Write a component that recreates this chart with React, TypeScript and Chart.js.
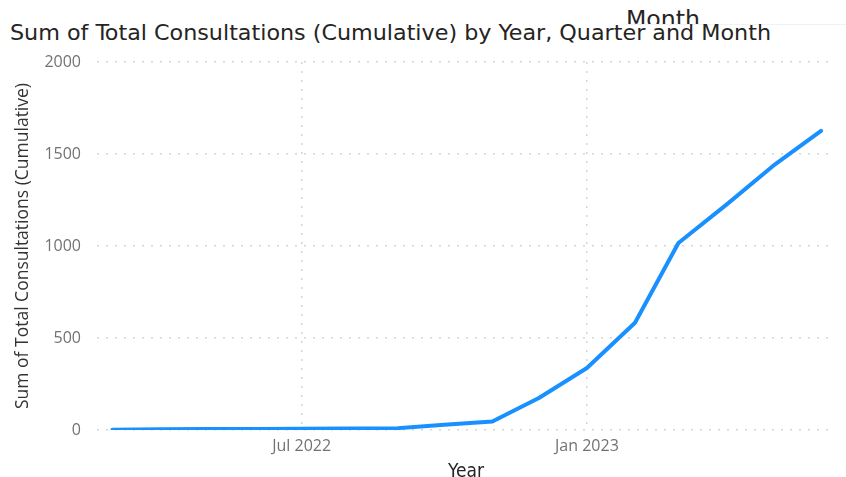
import React, { useEffect, useLayoutEffect, useRef } from "react";
import { Chart, registerables } from "chart.js";

Chart.register(...registerables);

const titleText = "Sum of Total Consultations (Cumulative) by Year, Quarter and Month";
const headerText = "Month";
const yAxisTitle = "Sum of Total Consultations (Cumulative)";
const xAxisTitle = "Year";

const months = [
  "2022-03-01", "2022-04-01", "2022-05-01", "2022-06-01", "2022-07-01", "2022-08-01",
  "2022-09-01", "2022-10-01", "2022-11-01", "2022-12-01", "2023-01-01", "2023-02-01",
  "2023-03-01", "2023-04-01", "2023-05-01", "2023-06-01",
];
const consultations = [2, 4, 5, 6, 7, 8, 10, 28, 46, 174, 337, 583, 1016, 1225, 1435, 1626];

const xTickDates = ["2022-07-01", "2023-01-01"];
const xTickLabels = ["Jul 2022", "Jan 2023"];
const xRange = ["2022-02-19", "2023-06-10"];
const yTicks = [0, 500, 1000, 1500, 2000];
const yTickLabels = ["0", "500", "1000", "1500", "2000"];

const day = (s: string) => Date.parse(s + "T00:00:00Z") / 86400000;

const CONDENSED = "'DejaVu Sans Condensed', 'Liberation Sans Narrow', 'DejaVu Sans', sans-serif";
const UI = "'Open Sans', 'DejaVu Sans', sans-serif";

function FitText(props: { text: string; width: number; style: React.CSSProperties }) {
  const ref = useRef<HTMLSpanElement | null>(null);
  useLayoutEffect(() => {
    const el = ref.current;
    if (!el) return;
    el.style.transform = "none";
    const w = el.getBoundingClientRect().width;
    if (w > 0) el.style.transform = `scaleX(${props.width / w})`;
  }, [props.text, props.width]);
  return (
    <span
      ref={ref}
      style={{ display: "inline-block", whiteSpace: "nowrap", transformOrigin: "left top", ...props.style }}
    >
      {props.text}
    </span>
  );
}

export default function App() {
  const canvasRef = useRef<HTMLCanvasElement | null>(null);

  useEffect(() => {
    document.body.style.margin = "0";
    const canvas = canvasRef.current;
    if (!canvas) return;
    const gridColor = "#d6d6d6";
    const tickColor = "#727272";
    const chart = new Chart(canvas, {
      type: "line",
      data: {
        datasets: [
          {
            data: months.map((m, i) => ({ x: day(m), y: consultations[i] })),
            borderColor: "#1890FF",
            borderWidth: 4,
            pointRadius: 0,
            tension: 0,
            borderJoinStyle: "round",
            borderCapStyle: "round",
            fill: false,
          },
        ],
      },
      options: {
        animation: false,
        responsive: false,
        maintainAspectRatio: false,
        layout: { padding: { top: 62, right: 11, left: 0, bottom: 0 } },
        plugins: { legend: { display: false }, tooltip: { enabled: false }, title: { display: false } },
        scales: {
          x: {
            type: "linear",
            min: day(xRange[0]),
            max: day(xRange[1]),
            afterBuildTicks: (s: any) => {
              s.ticks = xTickDates.map((d) => ({ value: day(d) }));
            },
            afterFit: (s: any) => {
              s.height = 47;
            },
            ticks: {
              autoSkip: false,
              maxRotation: 0,
              padding: 7,
              color: tickColor,
              font: { family: UI, size: 16 },
              callback: (v: any) => {
                const i = xTickDates.findIndex((d) => day(d) === v);
                return i >= 0 ? xTickLabels[i] : "";
              },
            },
            grid: { drawTicks: false, color: gridColor, lineWidth: 1.5 },
            border: { display: false, dash: [2, 7] },
            title: {
              display: true,
              text: xAxisTitle,
              color: "#252423",
              font: { family: CONDENSED, size: 19 },
              padding: { top: 7, bottom: -6 },
            },
          },
          y: {
            min: 0,
            max: 2000,
            afterBuildTicks: (s: any) => {
              s.ticks = yTicks.map((v) => ({ value: v }));
            },
            afterFit: (s: any) => {
              s.width = 97;
            },
            ticks: {
              padding: 16,
              color: tickColor,
              font: { family: UI, size: 16 },
              callback: (v: any) => {
                const i = yTicks.indexOf(v);
                return i >= 0 ? yTickLabels[i] : "";
              },
            },
            grid: { drawTicks: false, color: gridColor, lineWidth: 1.5 },
            border: { display: false, dash: [2, 7] },
            title: {
              display: true,
              text: yAxisTitle,
              color: "#333333",
              font: { family: UI, size: 17.5 },
              padding: { top: 13, bottom: 0 },
            },
          },
        },
      },
    } as any);
    return () => chart.destroy();
  }, []);

  return (
    <div style={{ position: "fixed", left: 0, top: 0, width: 846, height: 477, background: "#fff", overflow: "hidden" }}>
      <div style={{ position: "absolute", left: 626, top: 0, width: 220, height: 24, overflow: "hidden", borderBottom: "1px solid #f2f2f2" }}>
        <div style={{ position: "absolute", left: 0, top: 6 }}>
          <FitText text={headerText} width={74} style={{ fontFamily: CONDENSED, fontSize: 23, color: "#252423", lineHeight: "26px" }} />
        </div>
      </div>
      <div style={{ position: "absolute", left: 10, top: 21 }}>
        <FitText text={titleText} width={761} style={{ fontFamily: CONDENSED, fontSize: 21, color: "#252423", lineHeight: "24px" }} />
      </div>
      <canvas ref={canvasRef} width={846} height={477} style={{ position: "absolute", left: 0, top: 0, width: 846, height: 477 }} />
    </div>
  );
}
